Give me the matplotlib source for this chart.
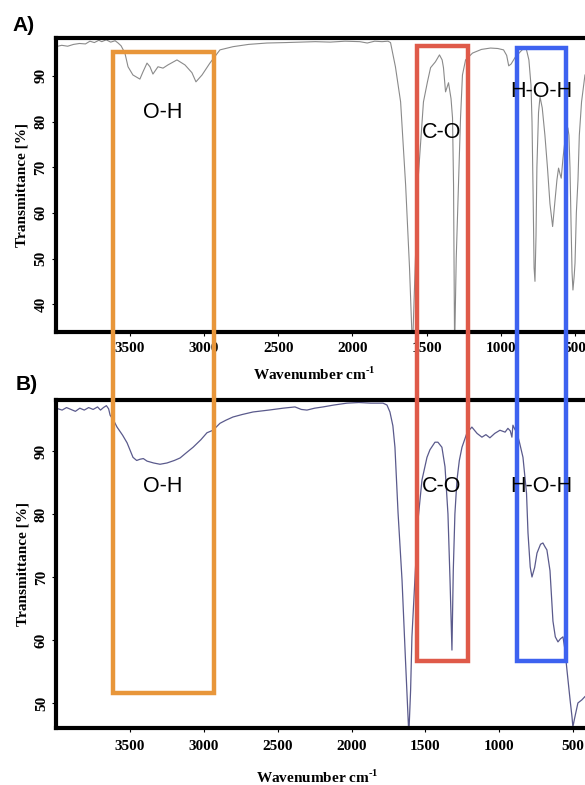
import matplotlib
matplotlib.use("Agg")
import matplotlib.pyplot as plt
from matplotlib.patches import Rectangle

# Espectro A (numero de onda en cm-1, transmitancia en %)
wn_a = [4000, 3960, 3920, 3880, 3840, 3800, 3770, 3740, 3710, 3690, 3660, 3630, 3600, 3580,
        3560, 3534, 3513, 3480, 3433, 3412, 3385, 3365, 3345, 3311, 3277, 3244, 3183, 3129,
        3082, 3055, 3014, 2961, 2893, 2805, 2700, 2576, 2450, 2350, 2250, 2150, 2050, 1950,
        1900, 1850, 1800, 1760, 1743, 1710, 1675, 1641, 1615, 1595, 1575, 1555, 1541, 1521,
        1494, 1473, 1440, 1413, 1395, 1386, 1372, 1352, 1335, 1325, 1318, 1311, 1300, 1285,
        1271, 1258, 1237, 1190, 1130, 1069, 1020, 981, 960, 946, 930, 900, 876, 856, 829,
        810, 796, 789, 782, 775, 769, 762, 756, 745, 735, 720, 702, 685, 668, 650, 636, 621,
        610, 600, 592, 580, 560, 547, 540, 533, 526, 519, 513, 505, 499, 490, 479, 470, 455,
        432, 410]
t_a = [96.4, 96.7, 96.5, 96.9, 97.1, 97.0, 97.6, 97.3, 97.8, 97.5, 97.9, 97.4, 97.7, 97.2,
       96.6, 95.0, 92.0, 90.2, 89.3, 90.9, 92.8, 92.0, 90.4, 92.0, 91.7, 92.4, 93.5, 92.4,
       90.7, 88.7, 90.2, 92.8, 95.7, 96.4, 96.9, 97.2, 97.3, 97.4, 97.5, 97.4, 97.6, 97.5,
       97.2, 97.6, 97.5, 97.6, 97.3, 92.0, 84.3, 66.0, 48.0, 30.0, 50.0, 68.3, 74.9, 84.3,
       88.7, 91.8, 93.1, 94.6, 93.5, 91.8, 86.5, 88.5, 85.0, 80.8, 66.0, 30.0, 50.0, 66.0,
       80.8, 90.2, 93.5, 95.0, 95.8, 96.1, 96.0, 95.7, 94.5, 92.2, 92.6, 94.2, 95.0, 95.7, 96.1,
       93.5, 88.0, 80.0, 65.0, 48.0, 45.0, 55.0, 70.0, 82.0, 85.4, 83.0, 77.0, 70.0, 62.0, 57.0, 62.0, 67.2,
       69.8, 68.5, 67.6, 72.0, 77.8, 78.6, 77.0, 70.0, 58.0, 47.0, 43.1, 46.0, 49.0, 60.0, 67.2, 77.0, 84.3,
       90.2, 91.0]

# Espectro B
wn_b = [4000, 3960, 3930, 3900, 3870, 3840, 3810, 3780, 3750, 3720, 3700, 3680, 3660, 3645,
        3635, 3610, 3588, 3550, 3520, 3480, 3455, 3432, 3410, 3385, 3340, 3297, 3250, 3200,
        3161, 3120, 3073, 3020, 2979, 2938, 2891, 2850, 2803, 2740, 2667, 2560, 2464, 2383,
        2340, 2302, 2250, 2193, 2120, 2031, 1950, 1870, 1787, 1760, 1740, 1720, 1706, 1685,
        1658, 1635, 1612, 1600, 1591, 1570, 1550, 1523, 1489, 1469, 1435, 1415, 1388, 1367,
        1347, 1333, 1320, 1311, 1300, 1286, 1270, 1252, 1218, 1185, 1150, 1117, 1090, 1063,
        1030, 995, 960, 941, 925, 914, 907, 895, 880, 862, 839, 815, 805, 790, 778, 760, 744,
        720, 704, 690, 677, 656, 636, 620, 602, 585, 568, 555, 541, 520, 507, 501, 490, 467,
        440, 420]
t_b = [96.8, 96.5, 96.9, 96.6, 96.3, 96.8, 96.5, 96.9, 96.6, 97.0, 96.5, 96.9, 97.2, 96.7,
       95.7, 94.8, 93.8, 92.5, 91.3, 89.0, 88.5, 88.7, 88.8, 88.4, 88.1, 87.9, 88.1, 88.5,
       88.9, 89.7, 90.6, 91.8, 92.9, 93.3, 94.4, 94.9, 95.4, 95.8, 96.2, 96.5, 96.8, 97.0,
       96.6, 96.5, 96.8, 97.0, 97.3, 97.6, 97.7, 97.6, 97.6, 97.3, 96.2, 94.0, 90.6, 80.2,
       69.5, 57.0, 45.0, 52.0, 60.5, 70.0, 79.0, 85.4, 89.0, 90.2, 91.4, 91.4, 90.6, 87.5,
       80.0, 69.5, 58.4, 71.0, 80.0, 85.4, 88.5, 90.6, 92.9, 93.8, 92.8, 92.2, 92.6, 92.1,
       92.8, 93.3, 93.0, 93.6, 93.2, 92.2, 94.1, 93.5, 92.9, 91.3, 89.0, 83.3, 77.0, 71.6, 70.0, 71.5, 73.8,
       75.2, 75.4, 74.8, 74.3, 71.0, 63.0, 60.5, 59.7, 60.2, 60.5, 58.5, 55.2, 50.5, 47.8, 46.2, 47.5, 50.0,
       50.5, 51.0]

xticks = [3500, 3000, 2500, 2000, 1500, 1000, 500]
yticks_a = [40, 50, 60, 70, 80, 90]
yticks_b = [50, 60, 70, 80, 90]

serif = "Liberation Serif"
plt.rcParams["mathtext.fontset"] = "custom"
plt.rcParams["mathtext.rm"] = serif + ":bold"
plt.rcParams["mathtext.bf"] = serif + ":bold"
W, H = 585, 785

fig = plt.figure(figsize=(W / 100, H / 100), dpi=100)


def px_axes(left, top, right, bottom):
    # convierte pixeles de la imagen a fracciones de figura
    return [left / W, 1 - bottom / H, (right - left) / W, (bottom - top) / H]


ax_a = fig.add_axes(px_axes(55.8, 38, 589.7, 332))
ax_b = fig.add_axes(px_axes(56.2, 400, 587.8, 728))

ax_a.plot(wn_a, t_a, color="#8a8a8a", lw=0.8)
ax_b.plot(wn_b, t_b, color="#5a5a8c", lw=0.9)

ax_a.set_ylim(33.9, 98.3)
ax_b.set_ylim(46.03, 98.1)
ax_a.set_yticks(yticks_a)
ax_b.set_yticks(yticks_b)

for ax, pad in [(ax_a, 4), (ax_b, 6)]:
    ax.set_xlim(4000, 400)
    ax.set_xticks(xticks)
    for s in ax.spines.values():
        s.set_linewidth(3)
    ax.tick_params(direction="out", length=3, width=0.8, pad=pad)
    ax.tick_params(axis="y", labelrotation=90, pad=3)
    for lab in ax.get_xticklabels() + ax.get_yticklabels():
        lab.set_fontfamily(serif)
        lab.set_fontweight("bold")
        lab.set_fontsize(11)
    for lab in ax.get_yticklabels():
        lab.set_va("center")
    ax.set_ylabel("Transmittance [%]", fontfamily=serif, fontweight="bold",
                  fontsize=11, labelpad=4)
    ax.set_xlabel(r"Wavenumber cm$^{\text{-1}}$", fontfamily=serif,
                  fontweight="bold", fontsize=11)

ax_a.xaxis.set_label_coords(0.4835, -0.115)
ax_b.xaxis.set_label_coords(0.4906, -0.125)

# cajas de las bandas (en pixeles de la figura)
boxes = [(112.5, 52, 213.5, 692.5, "#e8963a"),
         (417, 46, 468, 660.5, "#df5a49"),
         (517, 48, 565.5, 660.5, "#3d62f0")]
for x0, y0, x1, y1, c in boxes:
    fig.add_artist(Rectangle((x0 / W, 1 - y1 / H), (x1 - x0) / W, (y1 - y0) / H,
                             transform=fig.transFigure, fill=False, ec=c, lw=3.2,
                             zorder=10))

labels_a = [(3277, 81.9, "O-H"), (1396, 77.5, "C-O"), (729, 86.5, "H-O-H")]
labels_b = [(3277, 84.3, "O-H"), (1388, 84.3, "C-O"), (717, 84.3, "H-O-H")]
for ax, labs in [(ax_a, labels_a), (ax_b, labels_b)]:
    for x, y, s in labs:
        fig.text(x, y, s, transform=ax.transData, ha="center", va="center",
                 fontsize=15.5, fontfamily="Liberation Sans", zorder=11)

fig.text(24 / W, 1 - 25.5 / H, "A)", ha="center", va="center", fontsize=15,
         fontweight="bold", fontfamily="Liberation Sans")
fig.text(27 / W, 1 - 384 / H, "B)", ha="center", va="center", fontsize=15,
         fontweight="bold", fontfamily="Liberation Sans")

fig.savefig("out.png", dpi=100)
